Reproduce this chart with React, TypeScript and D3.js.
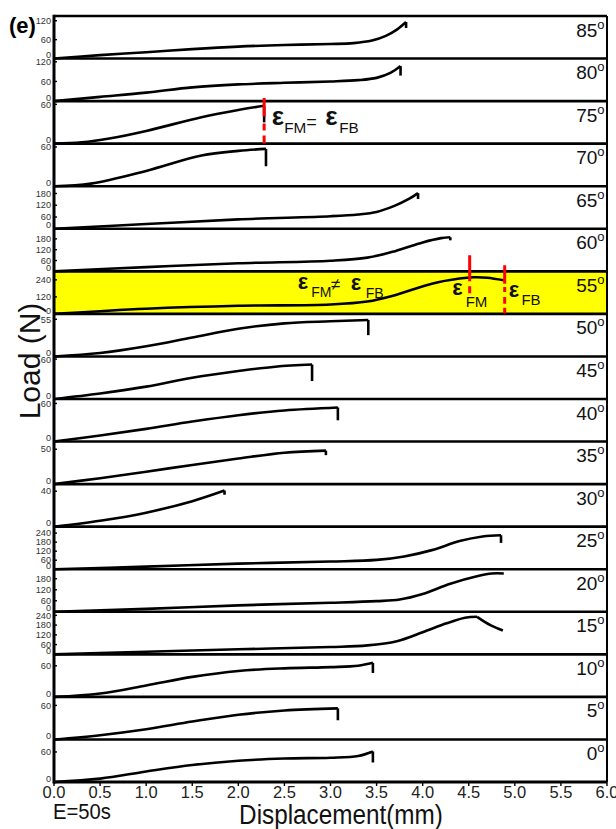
import React from 'react';
import * as d3 from 'd3';

type P = [number, number];

// ---- data ----
const angles = [85, 80, 75, 70, 65, 60, 55, 50, 45, 40, 35, 30, 25, 20, 15, 10, 5, 0];
const yMaxes = [135, 130, 65, 65, 217, 236, 300, 63, 64, 67, 61, 48, 283, 232, 262, 82, 75, 85];
const yTickVals = [
  [0, 60, 120], [0, 60, 120], [0, 60], [0, 60], [0, 60, 120, 180], [0, 60, 120, 180],
  [0, 120, 240], [0, 55], [0, 60], [0, 60], [0, 50], [0, 40],
  [0, 60, 120, 180, 240], [0, 60, 120, 180], [0, 60, 120, 180, 240], [0, 60], [0, 60], [0, 60],
];
const xTickVals = [0, 0.5, 1, 1.5, 2, 2.5, 3, 3.5, 4, 4.5, 5, 5.5, 6];

// load (N) vs displacement (mm)
const load85: P[] = [[0, 0], [0.5, 11], [1.0, 20], [1.5, 30], [2.0, 38], [2.5, 43], [3.0, 46], [3.25, 49], [3.45, 57], [3.6, 72], [3.72, 92], [3.82, 116]];
const load80: P[] = [[0, 0], [0.5, 13], [1.0, 26], [1.5, 42], [2.0, 51], [2.5, 56], [3.0, 60], [3.3, 64], [3.5, 71], [3.65, 86], [3.76, 107]];
const load75: P[] = [[0, 0], [0.3, 2], [0.6, 7.8], [1.0, 19.5], [1.6, 40.3], [2.0, 51.4], [2.28, 57.9]];
const load70: P[] = [[0, 0], [0.4, 4], [1.0, 23.4], [1.6, 46.8], [2.0, 54], [2.3, 57]];
const load65: P[] = [[0, 0], [1.0, 24], [2.0, 48], [3.0, 64], [3.3, 73], [3.5, 86], [3.7, 118], [3.85, 152], [3.95, 182]];
const load60: P[] = [[0, 0], [1.0, 23.6], [2.0, 45], [3.0, 59], [3.4, 76], [3.7, 112], [4.0, 160], [4.2, 184], [4.3, 189]];
const load55: P[] = [[0, 0], [1.0, 36], [2.0, 57], [3.0, 66], [3.4, 87], [3.7, 132], [4.1, 213], [4.4, 249], [4.55, 258], [4.7, 255], [4.88, 237]];
const load50: P[] = [[0, 0], [0.5, 5], [1.0, 15], [1.5, 28], [2.0, 41], [2.5, 49], [3.0, 52], [3.41, 54]];
const load45: P[] = [[0, 0], [0.5, 8.3], [1.0, 18.6], [1.5, 32], [2.0, 42], [2.4, 48.6], [2.8, 51.8]];
const load40: P[] = [[0, 0], [0.5, 9.4], [1.0, 20], [1.5, 31.5], [2.0, 41.5], [2.5, 49], [3.08, 53.6]];
const load35: P[] = [[0, 0], [0.5, 8.5], [1.0, 17.7], [1.5, 27.5], [2.0, 36.6], [2.5, 45], [2.95, 48]];
const load30: P[] = [[0, 0], [0.5, 6.7], [1.0, 15.8], [1.5, 28.8], [1.85, 40.8]];
const load25: P[] = [[0, 0], [1, 17], [2, 37], [3, 51], [3.5, 62], [3.8, 85], [4.1, 127], [4.4, 187], [4.65, 218], [4.85, 226]];
const load20: P[] = [[0, 0], [1, 16], [2, 35], [3, 49], [3.5, 58], [3.75, 67], [4.0, 97], [4.3, 153], [4.6, 195], [4.75, 209], [4.88, 209]];
const load15: P[] = [[0, 0], [1, 16], [2, 31], [3, 45], [3.4, 55], [3.72, 81], [4.0, 136], [4.26, 191], [4.46, 225], [4.59, 231]];
const load10: P[] = [[0, 0], [0.5, 6.6], [1.0, 22], [1.5, 38.5], [2.0, 50], [2.5, 55], [3.0, 57.4], [3.3, 60], [3.46, 65.6]];
const load5: P[] = [[0, 0], [0.5, 7.5], [1.0, 18], [1.5, 31.5], [2.0, 43.5], [2.5, 51], [3.08, 54.8]];
const load0: P[] = [[0, 0], [0.5, 6.8], [1.0, 21], [1.5, 34], [2.0, 42.5], [2.5, 46.8], [3.0, 48.5], [3.3, 52], [3.46, 61]];

// fracture tails (load drop after the maximum)
const tail85: P[] = [[3.82, 116], [3.82, 97]];
const tail80: P[] = [[3.76, 107], [3.76, 78]];
const tail75: P[] = [[2.28, 57.9], [2.28, 32.5]];
const tail70: P[] = [[2.3, 57], [2.3, 30.5]];
const tail65: P[] = [[3.95, 182], [3.95, 152]];
const tail60: P[] = [[4.3, 189], [4.3, 172]];
const tail50: P[] = [[3.41, 54], [3.41, 31.5]];
const tail45: P[] = [[2.8, 51.8], [2.8, 27]];
const tail40: P[] = [[3.08, 53.6], [3.08, 33.5]];
const tail35: P[] = [[2.95, 48], [2.95, 41.5]];
const tail30: P[] = [[1.85, 40.8], [1.85, 36]];
const tail25: P[] = [[4.85, 226], [4.85, 175]];
const tail15: P[] = [[4.59, 231], [4.74, 178], [4.87, 147]];
const tail10: P[] = [[3.46, 65.6], [3.46, 46]];
const tail5: P[] = [[3.08, 54.8], [3.08, 33.8]];
const tail0: P[] = [[3.46, 61], [3.46, 39]];

const loads = [load85, load80, load75, load70, load65, load60, load55, load50, load45, load40, load35, load30, load25, load20, load15, load10, load5, load0];
const tails: (P[] | null)[] = [tail85, tail80, tail75, tail70, tail65, tail60, null, tail50, tail45, tail40, tail35, tail30, tail25, null, tail15, tail10, tail5, tail0];

// strain markers (mm)
const strain75 = [2.28];
const strain55 = [4.51, 4.89];

const FONT = "'Liberation Sans', Arial, Helvetica, sans-serif";
const X0 = 54, X1 = 607, Y0 = 16, Y1 = 782;

export default function App() {
  const x = d3.scaleLinear().domain([0, 6]).range([X0, X1]);
  const h = (Y1 - Y0) / angles.length;
  const panels = angles.map((a, i) => {
    const top = Y0 + i * h;
    const bottom = top + h;
    const y = d3.scaleLinear().domain([0, yMaxes[i]]).range([bottom, top]);
    const main = d3.line<P>().x(d => x(d[0])).y(d => y(d[1])).curve(d3.curveCatmullRom.alpha(0.5));
    const t = tails[i];
    const tailGen = d3.line<P>().x(d => x(d[0])).y(d => y(d[1]))
      .curve(t && t.length > 2 ? d3.curveMonotoneX : d3.curveLinear);
    return { a, i, top, bottom, y, mainPath: main(loads[i]) || '', tailPath: t ? tailGen(t) || '' : '' };
  });
  const p75 = panels[angles.indexOf(75)];
  const p55 = panels[angles.indexOf(55)];
  const xl = x(strain75[0]);
  const xFM = x(strain55[0]);
  const xFB = x(strain55[1]);
  const eps = (px: number, py: number, size: number) => (
    <text x={px} y={py} fontSize={size} fontWeight="bold" fontFamily={FONT} fill="#111">ε</text>
  );
  const sub = (px: number, py: number, s: string, size: number) => (
    <text x={px} y={py} fontSize={size} fontFamily={FONT} fill="#111">{s}</text>
  );
  return (
    <svg width={616} height={829} style={{ position: 'absolute', left: 0, top: 0, background: '#fff' }}>
      <rect x={0} y={0} width={616} height={829} fill="#fff" />
      {/* yellow highlight */}
      <rect x={X0} y={p55.top} width={X1 - X0} height={h} fill="#ffff00" />
      {/* panel separators */}
      {panels.map(p => (
        <line key={'s' + p.i} x1={X0} x2={X1} y1={p.top} y2={p.top} stroke="#000" strokeWidth={2.6} />
      ))}
      <line x1={X0} x2={X1} y1={Y1} y2={Y1} stroke="#000" strokeWidth={2.8} />
      <line x1={X1} x2={X1} y1={Y0} y2={Y1} stroke="#000" strokeWidth={2} />
      <line x1={X0} x2={X0} y1={Y0 - 1.3} y2={Y1 + 1.4} stroke="#000" strokeWidth={3} />
      {/* y ticks */}
      {panels.map(p => yTickVals[p.i].map(v => {
        const ty = p.y(v);
        const ly = Math.max(p.top + 3.5, Math.min(p.bottom - 3.5, ty));
        return (
          <g key={'t' + p.i + '-' + v}>
            <line x1={X0} x2={X0 + 3} y1={ty} y2={ty} stroke="#000" strokeWidth={1.4} />
            <text x={51} y={ly} dy="0.35em" textAnchor="end" fontSize={9.2} fontFamily={FONT} fill="#333">{v}</text>
          </g>
        );
      }))}
      {/* x ticks */}
      {xTickVals.map(v => (
        <g key={'x' + v}>
          <line x1={x(v)} x2={x(v)} y1={Y1} y2={Y1 + 4} stroke="#000" strokeWidth={1.4} />
          <text x={x(v)} y={798} textAnchor="middle" fontSize={16.5} fontFamily={FONT} fill="#222">{v.toFixed(1)}</text>
        </g>
      ))}
      {/* curves */}
      {panels.map(p => (
        <g key={'c' + p.i}>
          <path d={p.mainPath} fill="none" stroke="#000" strokeWidth={2.6} strokeLinejoin="round" />
          {p.tailPath && <path d={p.tailPath} fill="none" stroke="#000" strokeWidth={2.6} strokeLinejoin="miter" />}
        </g>
      ))}
      {/* angle labels */}
      {panels.map(p => (
        <text key={'a' + p.i} x={604.5} y={p.top + 20.5} textAnchor="end" fontSize={19} fontFamily={FONT} fill="#111">
          {p.a}<tspan fontSize={13} dy={-8}>o</tspan>
        </text>
      ))}
      {/* annotations 75 */}
      <line x1={xl} x2={xl} y1={p75.top - 3} y2={p75.bottom + 1.5} stroke="#ff0000" strokeWidth={3}
        strokeDasharray="18.5 7 7 5 8 5" />
      {eps(xl + 7.5, p75.top + 24, 26)}
      {sub(xl + 20, p75.top + 31.6, 'FM', 15.3)}
      {sub(xl + 42, p75.top + 27, '=', 18)}
      {eps(xl + 61, p75.top + 24, 26)}
      {sub(xl + 75, p75.top + 31.6, 'FB', 15.3)}
      {/* annotations 55 */}
      {eps(xFM - 172, p55.top + 17.5, 22)}
      {sub(xFM - 158.5, p55.top + 25.4, 'FM', 14)}
      {sub(xFM - 139, p55.top + 19, '≠', 17)}
      {eps(xFM - 119, p55.top + 18.7, 22)}
      {sub(xFM - 104, p55.top + 27, 'FB', 14)}
      {eps(xFM - 17.3, p55.top + 23.7, 22)}
      {sub(xFM - 4, p55.top + 35.4, 'FM', 15)}
      {eps(xFB + 4, p55.top + 25.4, 22)}
      {sub(xFB + 16.7, p55.top + 33.7, 'FB', 15)}
      <line x1={xFM} x2={xFM} y1={p55.top - 16} y2={p55.top + 22} stroke="#ff0000" strokeWidth={3}
        strokeDasharray="26 5 8 100" />
      <line x1={xFB} x2={xFB} y1={p55.top - 6} y2={p55.bottom} stroke="#ff0000" strokeWidth={3}
        strokeDasharray="18.3 3.4 5 5 6.6 4 5.7" />
      {/* titles */}
      <text x={9} y={33} fontSize={22} fontWeight="bold" fontFamily={FONT} fill="#000">(e)</text>
      <text transform={`translate(40,361) rotate(-90)`} textAnchor="middle" fontSize={30} fontFamily={FONT} fill="#111">Load (N)</text>
      <text transform={`translate(341,824) scale(0.9,1)`} textAnchor="middle" fontSize={27} fontFamily={FONT} fill="#111">Displacement(mm)</text>
      <text transform={`translate(53,819) scale(0.92,1)`} fontSize={22} fontFamily={FONT} fill="#111">E=50s</text>
    </svg>
  );
}
